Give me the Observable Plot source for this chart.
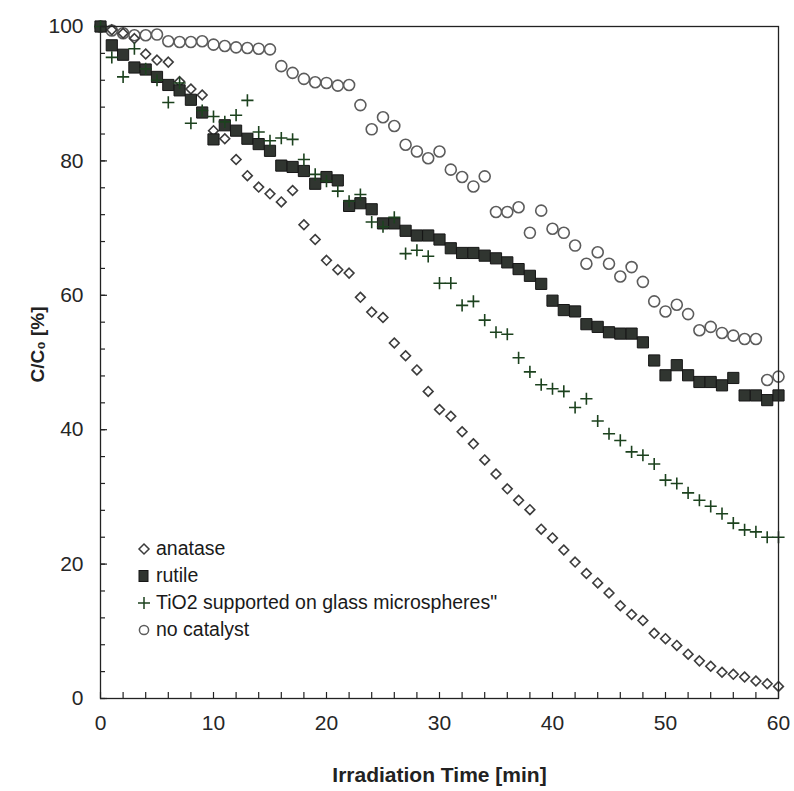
<!DOCTYPE html>
<html><head><meta charset="utf-8">
<script src="https://cdn.jsdelivr.net/npm/d3@7"></script>
<script src="https://cdn.jsdelivr.net/npm/@observablehq/plot@0.6"></script>
<style>
body{margin:0;background:#fff;}
#wrap{position:relative;width:794px;height:791px;}
#legend{position:absolute;left:137px;top:535px;font-family:"Liberation Sans",Arial,sans-serif;font-size:19.5px;color:#1a1a1a;}
#legend .row{display:flex;align-items:center;height:27px;white-space:nowrap;}
#legend svg{width:14px;height:14px;margin-right:5px;overflow:visible}
</style></head><body><div id="wrap"><div id="legend"></div></div>
<script>
const time = [0,1,2,3,4,5,6,7,8,9,10,11,12,13,14,15,16,17,18,19,20,21,22,23,24,25,26,27,28,29,30,31,32,33,34,35,36,37,38,39,40,41,42,43,44,45,46,47,48,49,50,51,52,53,54,55,56,57,58,59,60];
const anatase = [100,99.5,99.0,98.2,95.9,95.0,94.7,91.8,90.7,89.8,84.5,83.3,80.2,77.8,76.1,75.1,73.9,75.6,70.5,68.3,65.2,63.8,63.3,59.7,57.5,56.7,52.9,51.0,48.9,45.7,43.0,42.0,39.7,37.9,35.5,33.4,31.2,29.5,28.1,25.2,23.9,22.1,20.3,18.6,17.2,15.7,13.8,12.5,11.6,9.7,8.9,7.9,6.6,5.6,4.8,3.9,3.6,3.2,2.6,2.2,1.8];
const rutile = [100,97.2,95.8,93.9,93.6,92.5,91.3,90.5,89.1,87.2,83.2,85.3,84.5,83.3,82.5,81.5,79.3,79.1,78.5,76.6,77.6,77.1,73.3,73.7,72.8,70.7,70.7,69.6,68.9,68.9,68.3,67.0,66.3,66.3,65.9,65.5,64.9,63.9,62.9,61.7,59.2,57.8,57.6,55.7,55.3,54.5,54.3,54.3,53.0,50.3,48.1,49.6,48.1,47.1,47.1,46.6,47.7,45.1,45.1,44.4,45.1];
const tio2Glass = [100,95.4,92.5,96.7,93.7,92.0,88.7,91.6,85.6,87.5,86.6,85.8,86.8,89.0,84.3,83.0,83.4,83.2,80.2,78.0,77.0,75.5,74.0,75.0,70.9,70.2,71.6,66.2,66.7,65.8,61.8,61.8,58.5,59.1,56.3,54.5,54.2,50.7,48.6,46.7,46.1,45.7,43.3,44.6,41.3,39.4,38.4,36.7,36.2,34.9,32.5,32.0,30.6,29.5,28.6,27.5,26.1,25.1,24.8,24.0,24.0];
const noCatalyst = [100,99.4,99.0,98.7,98.7,98.8,97.8,97.7,97.7,97.8,97.3,97.1,96.9,96.8,96.7,96.6,94.1,93.1,92.2,91.7,91.6,91.2,91.3,88.3,84.7,86.5,85.2,82.4,81.4,80.4,81.4,78.7,77.6,76.2,77.7,72.4,72.4,73.1,69.3,72.6,69.9,69.3,67.4,64.7,66.4,64.7,62.8,64.2,62.0,59.1,57.6,58.6,57.2,54.8,55.3,54.4,54.0,53.5,53.5,47.4,47.9];
const seriesNames = ["anatase","rutile","TiO2 supported on glass microspheres\"","no catalyst"];
const xMajor = [0,10,20,30,40,50,60];
const xMinor = [0,2,4,6,8,10,12,14,16,18,20,22,24,26,28,30,32,34,36,38,40,42,44,46,48,50,52,54,56,58,60];
const yMajor = [0,20,40,60,80,100];
const yMinor = [0,4,8,12,16,20,24,28,32,36,40,44,48,52,56,60,64,68,72,76,80,84,88,92,96,100];
const xLabel = "Irradiation Time [min]";
const yLabel = "C/C\u2080 [%]";

const toRows = vals => vals.map((v, i) => ({t: time[i], v}));
const regular = "'Liberation Sans',Arial,sans-serif";

const styles = {
  anatase: {symbol: "diamond2", r: 4.4, stroke: "#3c3c3c", strokeWidth: 1.6, fill: "none"},
  rutile: {symbol: "square", r: 6.3, stroke: "#161616", strokeWidth: 1, fill: "#303530"},
  tio2: {symbol: "plus", r: 4.0, stroke: "#1c421e", strokeWidth: 1.6, fill: "none"},
  none: {symbol: "circle", r: 5.5, stroke: "#5c5c5c", strokeWidth: 1.6, fill: "none"}
};

const chart = Plot.plot({
  width: 794, height: 791,
  marginTop: 26, marginRight: 16, marginBottom: 93, marginLeft: 100,
  x: {domain: [0, 60]},
  y: {domain: [0, 100]},
  style: {background: "#fff", color: "#222", fontFamily: regular},
  marks: [
    Plot.dot(toRows(noCatalyst), {x: "t", y: "v", ...styles.none}),
    Plot.dot(toRows(anatase), {x: "t", y: "v", ...styles.anatase}),
    Plot.dot(toRows(rutile), {x: "t", y: "v", ...styles.rutile}),
    Plot.dot(toRows(tio2Glass), {x: "t", y: "v", ...styles.tio2}),
    Plot.frame({stroke: "#222", strokeWidth: 1.3}),
    Plot.axisY({ticks: yMajor, tickSize: 0, tickPadding: 17, fontSize: 21, fontFamily: regular, fill: "#262626", label: null}),
    Plot.axisY({ticks: yMinor, tickSize: 5, dx: 5, tickFormat: () => "", label: null, stroke: "#222", strokeWidth: 1.2}),
    Plot.axisY({ticks: yMajor, tickSize: 7, dx: 7, tickFormat: () => "", label: null, stroke: "#222", strokeWidth: 1.2}),
    Plot.axisX({ticks: xMajor, tickSize: 0, tickPadding: 17, fontSize: 21, fontFamily: regular, fill: "#262626", label: null}),
    Plot.axisX({ticks: xMinor, tickSize: 6, dy: -6, tickFormat: () => "", label: null, stroke: "#222", strokeWidth: 1.2}),
    Plot.text([yLabel], {text: d => d, frameAnchor: "left", textAnchor: "middle", lineAnchor: "middle", rotate: -90, dx: -63, dy: -18, fontWeight: "bold", fontSize: 19, fontFamily: regular, fill: "#222"}),
    Plot.text([xLabel], {text: d => d, frameAnchor: "bottom", textAnchor: "middle", lineAnchor: "middle", dy: 77, fontWeight: "bold", fontSize: 21, fontFamily: regular, fill: "#222"})
  ]
});
document.getElementById("wrap").prepend(chart);

const legendSyms = [
  '<path d="M7,2 L12,7 L7,12 L2,7 Z" fill="none" stroke="#3c3c3c" stroke-width="1.5"/>',
  '<rect x="2" y="1.5" width="9" height="11" fill="#303530" stroke="#161616"/>',
  '<path d="M1,7 H13 M7,1 V13" stroke="#1c421e" stroke-width="1.5"/>',
  '<circle cx="7" cy="7" r="4.6" fill="none" stroke="#5c5c5c" stroke-width="1.5"/>'
];
const legend = document.getElementById("legend");
seriesNames.forEach((name, i) => {
  const row = document.createElement("div");
  row.className = "row";
  row.innerHTML = `<svg viewBox="0 0 14 14">${legendSyms[i]}</svg>`;
  const span = document.createElement("span");
  span.textContent = name;
  row.appendChild(span);
  legend.appendChild(row);
});
</script></body></html>
